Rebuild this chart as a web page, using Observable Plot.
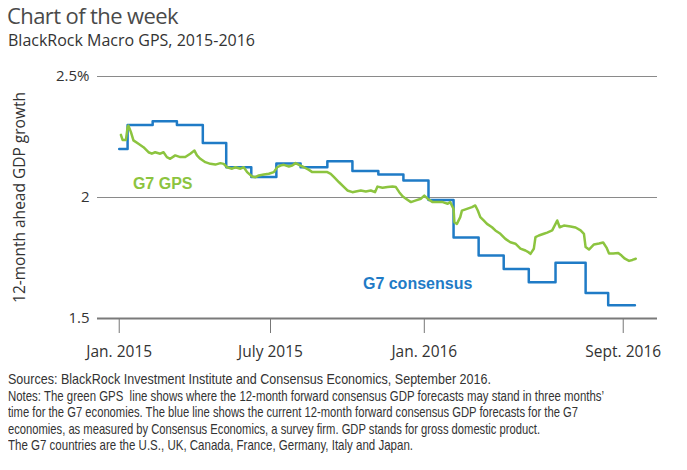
<!DOCTYPE html>
<html>
<head>
<meta charset="utf-8">
<script src="https://cdn.jsdelivr.net/npm/d3@7"></script>
<script src="https://cdn.jsdelivr.net/npm/@observablehq/plot@0.6"></script>
<style>
  html, body { margin: 0; padding: 0; background: #fff; }
  #wrap { position: relative; width: 687px; height: 470px; overflow: hidden; }
  #title { position: absolute; left: 7px; top: 0px; font-family: "Open Sans", sans-serif; font-size: 22px; line-height: normal; letter-spacing: -0.6px; color: #4a4a4a; white-space: nowrap; }
  #subtitle { position: absolute; left: 8px; top: 29px; font-family: "Open Sans", sans-serif; font-size: 16px; color: #333; white-space: nowrap; }
  #chart { position: absolute; left: 0; top: 55px; }
  #notes { position: absolute; left: 8px; top: 371px; font-family: "Liberation Sans", Arial, sans-serif; font-size: 15px; line-height: 16.6px; color: #333; white-space: nowrap; }
  #notes div { display: block; height: 16.6px; }
  #notes span { display: inline-block; transform-origin: 0 0; }
</style>
</head>
<body>
<div id="wrap">
  <div id="title">Chart of the week</div>
  <div id="subtitle">BlackRock Macro GPS, 2015-2016</div>
  <div id="chart"></div>
  <div id="notes">
    <div><span>Sources: BlackRock Investment Institute and Consensus Economics, September 2016.</span></div>
    <div><span>Notes: The green GPS&nbsp; line shows where the 12-month forward consensus GDP forecasts may stand in three months’</span></div>
    <div><span>time for the G7 economies. The blue line shows the current 12-month forward consensus GDP forecasts for the G7</span></div>
    <div><span>economies, as measured by Consensus Economics, a survey firm. GDP stands for gross domestic product.</span></div>
    <div><span>The G7 countries are the U.S., UK, Canada, France, Germany, Italy and Japan.</span></div>
  </div>
</div>
<script>
// G7 consensus (monthly survey, step line): change dates and values
const consensusDates = ["2015-01-01","2015-01-11","2015-02-10","2015-03-11","2015-04-11","2015-05-09","2015-06-08","2015-07-08","2015-08-06","2015-09-07","2015-10-07","2015-11-07","2015-12-07","2016-01-06","2016-02-05","2016-03-06","2016-04-05","2016-05-05","2016-06-06","2016-07-12","2016-08-08","2016-09-09"];
const consensusValues = [2.20,2.30,2.315,2.30,2.225,2.125,2.085,2.14,2.125,2.15,2.11,2.095,2.07,1.99,1.835,1.76,1.705,1.65,1.73,1.605,1.555,1.555];

// G7 GPS readings
const gpsDates = ["2015-01-03","2015-01-05","2015-01-09","2015-01-11","2015-01-12","2015-01-15","2015-01-18","2015-01-24","2015-01-30","2015-02-05","2015-02-09","2015-02-13","2015-02-19","2015-02-23","2015-02-27","2015-03-03","2015-03-09","2015-03-15","2015-03-21","2015-03-27","2015-04-01","2015-04-04","2015-04-08","2015-04-14","2015-04-20","2015-04-26","2015-05-02","2015-05-06","2015-05-10","2015-05-16","2015-05-20","2015-05-26","2015-05-30","2015-06-03","2015-06-09","2015-06-13","2015-06-17","2015-06-23","2015-06-29","2015-07-05","2015-07-09","2015-07-13","2015-07-17","2015-07-23","2015-07-27","2015-07-31","2015-08-04","2015-08-10","2015-08-16","2015-08-20","2015-08-26","2015-09-01","2015-09-07","2015-09-11","2015-09-15","2015-09-21","2015-09-27","2015-10-01","2015-10-07","2015-10-11","2015-10-17","2015-10-23","2015-10-29","2015-11-03","2015-11-06","2015-11-12","2015-11-18","2015-11-24","2015-11-28","2015-12-02","2015-12-06","2015-12-10","2015-12-16","2015-12-22","2015-12-28","2016-01-01","2016-01-05","2016-01-11","2016-01-17","2016-01-23","2016-01-29","2016-02-01","2016-02-05","2016-02-06","2016-02-09","2016-02-13","2016-02-15","2016-02-21","2016-02-27","2016-03-02","2016-03-05","2016-03-08","2016-03-12","2016-03-16","2016-03-22","2016-03-26","2016-04-01","2016-04-07","2016-04-13","2016-04-19","2016-04-25","2016-05-01","2016-05-05","2016-05-07","2016-05-11","2016-05-13","2016-05-17","2016-05-23","2016-05-27","2016-06-02","2016-06-06","2016-06-08","2016-06-11","2016-06-16","2016-06-24","2016-06-30","2016-07-06","2016-07-10","2016-07-12","2016-07-16","2016-07-22","2016-07-28","2016-08-02","2016-08-06","2016-08-09","2016-08-14","2016-08-20","2016-08-24","2016-08-28","2016-09-02","2016-09-06","2016-09-10"];
const gpsValues = [2.259,2.238,2.238,2.290,2.297,2.270,2.236,2.222,2.208,2.187,2.181,2.187,2.181,2.187,2.167,2.160,2.174,2.167,2.167,2.181,2.194,2.174,2.160,2.146,2.139,2.136,2.142,2.139,2.125,2.119,2.125,2.119,2.125,2.105,2.087,2.084,2.091,2.095,2.098,2.105,2.125,2.132,2.135,2.128,2.132,2.142,2.135,2.125,2.114,2.105,2.105,2.105,2.105,2.098,2.084,2.063,2.043,2.029,2.022,2.025,2.029,2.025,2.029,2.022,2.045,2.040,2.043,2.045,2.043,2.022,2.005,1.995,1.981,1.988,1.995,2.008,1.995,1.981,1.981,1.981,1.974,1.981,1.953,1.898,1.891,1.919,1.946,1.953,1.960,1.967,1.946,1.919,1.905,1.891,1.877,1.864,1.850,1.829,1.815,1.809,1.789,1.781,1.773,1.767,1.788,1.836,1.843,1.850,1.855,1.864,1.891,1.905,1.877,1.884,1.880,1.876,1.864,1.850,1.795,1.785,1.806,1.810,1.814,1.793,1.769,1.769,1.771,1.760,1.747,1.738,1.742,1.747];

// axis ticks
const yTicks = [1.5, 2, 2.5];
const yTickLabels = ["1.5", "2", "2.5%"];
const xTickDates = ["2015-01-01", "2015-07-01", "2016-01-01", "2016-08-26"];
const xTickLabels = ["Jan. 2015", "July 2015", "Jan. 2016", "Sept. 2016"];

// series labels
const seriesNames = ["G7 GPS", "G7 consensus"];
const seriesLabelDates = ["2015-02-22", "2015-12-24"];
const seriesLabelValues = [2.058, 1.645];

const blue = "#1f7bc6";
const green = "#8cc43f";

const consensus = consensusDates.map((d, i) => ({date: new Date(d), value: consensusValues[i]}));
const gps = gpsDates.map((d, i) => ({date: new Date(d), value: gpsValues[i]}));
const labels = seriesNames.map((n, i) => ({name: n, date: new Date(seriesLabelDates[i]), value: seriesLabelValues[i], color: i === 0 ? green : blue}));
const xLabelMap = new Map(xTickDates.map((d, i) => [+new Date(d), xTickLabels[i]]));
const yLabelMap = new Map(yTicks.map((v, i) => [v, yTickLabels[i]]));

const chart = Plot.plot({
  width: 687,
  height: 312,
  marginLeft: 97,
  marginRight: 30,
  marginTop: 21,
  marginBottom: 49,
  style: {fontFamily: "'Open Sans', sans-serif", color: "#333", background: "transparent"},
  x: {type: "utc", domain: [new Date("2014-12-06"), new Date("2016-10-06")]},
  y: {domain: [1.5, 2.5]},
  marks: [
    Plot.ruleY([2, 2.5], {stroke: "#8a8a8a", strokeWidth: 1}),
    Plot.axisY({ticks: yTicks, tickFormat: d => yLabelMap.get(d), tickSize: 0, tickPadding: 8, fontSize: 15,
      label: "12-month ahead GDP growth", labelAnchor: "center", labelArrow: "none", labelOffset: 84}),
    Plot.axisX({ticks: xTickDates.map(d => new Date(d)), tickFormat: d => xLabelMap.get(+d), tickSize: 15, tickPadding: 12, fontSize: 15.5, stroke: "#777", label: null}),
    Plot.ruleY([1.5], {stroke: "#7a7a7a", strokeWidth: 2}),
    Plot.line(consensus, {x: "date", y: "value", curve: "step-after", stroke: blue, strokeWidth: 2.5}),
    Plot.line(gps, {x: "date", y: "value", stroke: green, strokeWidth: 2.5}),
    Plot.text(labels, {x: "date", y: "value", text: "name", fill: "color", fontSize: 16, fontWeight: "bold", fontFamily: "'Liberation Sans', Arial, sans-serif"})
  ]
});
document.getElementById("chart").appendChild(chart);
// y-axis title font size
chart.querySelectorAll("g[aria-label='y-axis label'] text, g[aria-label='y-axis label']").forEach(el => el.setAttribute("font-size", 15.5));

// condense each notes line to the reference's line widths
const noteWidths = [483, 596, 570, 532, 405];
document.querySelectorAll("#notes span").forEach((s, i) => {
  const w = s.getBoundingClientRect().width;
  s.style.transform = `scaleX(${noteWidths[i] / w})`;
});
</script>
</body>
</html>
